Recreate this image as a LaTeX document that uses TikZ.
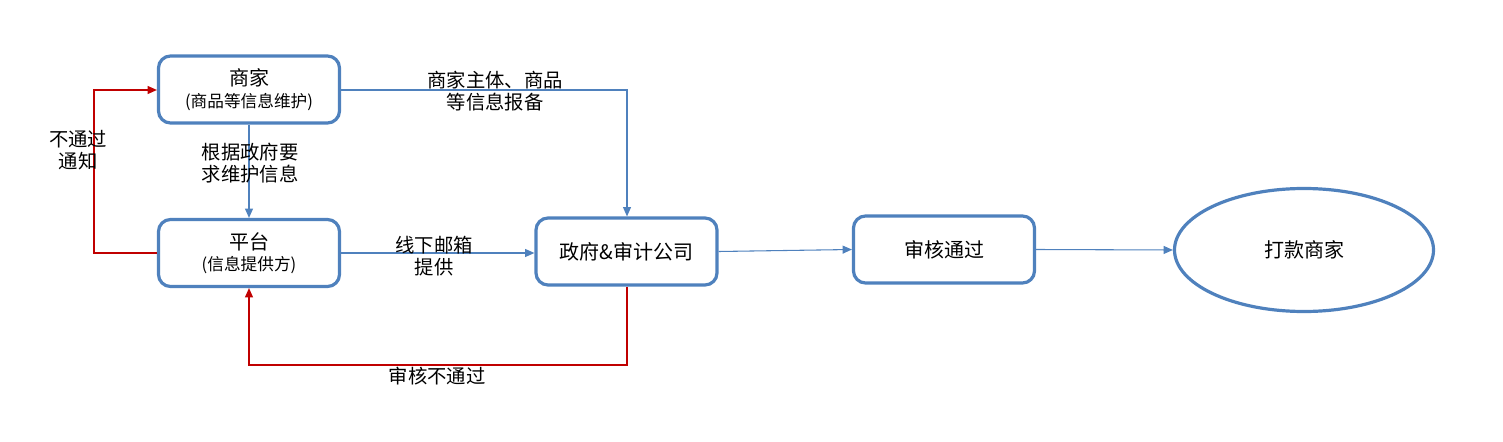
\documentclass[tikz,border=0pt]{standalone}
\usepackage{fontspec}
\setmainfont{Noto Sans CJK SC}
\usetikzlibrary{shapes.geometric,arrows.meta}
\definecolor{bblue}{HTML}{4F81BD}
\definecolor{rred}{HTML}{C00000}
\begin{document}
\begin{tikzpicture}[x=0.75pt,y=-0.75pt,
  box/.style={draw=bblue,line width=2.4pt,rounded corners=9pt,minimum width=181*0.75pt,minimum height=67*0.75pt,align=center,font=\fontsize{15}{18}\selectfont,fill=white},
  oval/.style={ellipse,draw=bblue,line width=2.4pt,minimum width=259*0.75pt,minimum height=123*0.75pt,font=\fontsize{15}{18}\selectfont},
  lab/.style={align=center,font=\fontsize{14.5}{17}\selectfont,inner sep=0pt},
  bl/.style={draw=bblue,line width=0.8pt,-{Triangle[length=7pt,width=6pt]}},
  rd/.style={draw=rred,line width=0.8pt,-{Triangle[length=7pt,width=6pt]}}]
\useasboundingbox (0,0) rectangle (1503,442);
\node[box] (shang) at (249,89.5) {商家\\[-2pt]{\fontsize{12.5}{15}\selectfont(商品等信息维护)}};
\node[box] (ping) at (249,253) {平台\\[-2pt]{\fontsize{12.5}{15}\selectfont(信息提供方)}};
\node[box] (gov) at (626.5,251.5) {政府\&审计公司};
\node[box] (pass) at (944,249.5) {审核通过};
\node[oval] (pay) at (1304,250) {打款商家};
\coordinate (c1) at (627,90);
\coordinate (c2) at (94,253);
\coordinate (c3) at (94,90);
\coordinate (c4) at (627,365);
\coordinate (c5) at (249,365);
\draw[bl] (shang.east |- c1) -- (c1) -- (gov.north -| c1);
\draw[bl] (shang.south) -- (ping.north);
\draw[rd] (ping.west |- c2) -- (c2) -- (c3) -- (shang.west |- c3);
\draw[bl] (ping.east) -- (gov.west |- ping.east);
\draw[rd] (gov.south -| c4) -- (c4) -- (c5) -- (ping.south -| c5);
\draw[bl] (gov.east) -- (pass.west);
\draw[bl] (pass.east) -- (pay.west);
\node[lab] (l1) at (495,91) {商家主体、商品\\等信息报备};
\node[lab] (l2) at (250,163) {根据政府要\\求维护信息};
\node[lab] (l3) at (78,150) {不通过\\通知};
\node[lab] (l4) at (434,256) {线下邮箱\\提供};
\node[lab] (l5) at (437,376) {审核不通过};
\end{tikzpicture}
\end{document}
